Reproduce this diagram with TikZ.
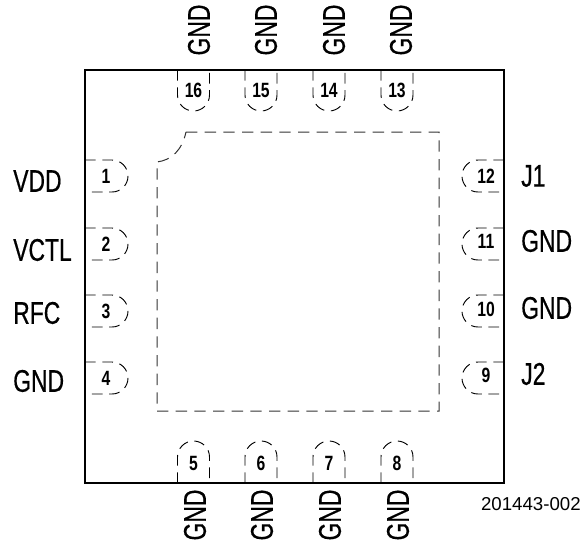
\documentclass[tikz,border=0pt]{standalone}
\usepackage{graphicx}
\usepackage{fontspec}
\setmainfont{Liberation Sans}
\newfontfamily\condfont[FakeStretch=0.73,FakeBold=0.5]{Liberation Sans}
\newcommand{\pintext}[1]{\scalebox{0.76}[1]{\bfseries #1}}
\usetikzlibrary{positioning}
\tikzset{
    pinlabel/.style={font=\condfont\fontsize{23.5}{23.5}\selectfont, inner sep=0pt},
    pinnum/.style={font=\fontsize{15.5}{15.5}\selectfont, inner sep=0pt},
    paddash/.style={line width=0.7pt, dash pattern=on 8pt off 5pt},
    epaddash/.style={line width=0.75pt, black!80, dash pattern=on 8.5pt off 5.5pt}
}
\begin{document}
\begin{tikzpicture}[x=0.75pt,y=-0.75pt]
    \useasboundingbox (0,0) rectangle (583,544);

    % Package outline
    \coordinate (bodyNW) at (85,70);
    \coordinate (bodySE) at (504,483);
    \draw[line width=1.2pt] (bodyNW) rectangle (bodySE);

    % Exposed pad
    \draw[epaddash] (186,132) -- (439,132) -- (439,411) -- (157,411) -- (157,162)
        .. controls (172,160) and (182,150) .. (186,132);

    % Left pads
    \foreach \y/\num/\name/\ly in {176/1/VDD/181, 244/2/VCTL/250, 311/3/RFC/313, 378/4/GND/381} {
        \draw[paddash] (85,\y-16) -- (112,\y-16) arc (-90:90:16) -- (85,\y+16);
        \node[pinnum] (pin\num) at (106,\y) {\pintext{\num}};
        \node[pinlabel, anchor=west] (label\num) at (13,\ly) {\name};
    }

    % Right pads
    \foreach \y/\num/\name/\ly/\ny in {176/12/J1/176/176, 244/11/GND/241/241, 311/10/GND/308/309, 378/9/J2/374/375} {
        \draw[paddash] (504,\y-16) -- (478,\y-16) arc (270:90:16) -- (504,\y+16);
        \node[pinnum] (pin\num) at (486,\ny) {\pintext{\num}};
        \node[pinlabel, anchor=west] (label\num) at (521,\ly) {\name};
    }

    % Top pads
    \foreach \x/\num/\lx in {193.5/16/199, 261/15/266, 329/14/334, 397/13/401} {
        \draw[paddash] (\x-16,70) -- (\x-16,95) arc (180:0:16) -- (\x+16,70);
        \node[pinnum] (pin\num) at (\x,90) {\pintext{\num}};
        \node[pinlabel, rotate=90] (label\num) at (\lx,30) {GND};
    }

    % Bottom pads
    \foreach \x/\num/\lx in {193.5/5/195, 261/6/262, 329/7/330, 397/8/398} {
        \draw[paddash] (\x-16,483) -- (\x-16,457) arc (180:360:16) -- (\x+16,483);
        \node[pinnum] (pin\num) at (\x,463) {\pintext{\num}};
        \node[pinlabel, rotate=90] (label\num) at (\lx,515) {GND};
    }

    \node[font=\fontsize{14}{14}\selectfont, inner sep=0pt, anchor=east] (partno) at (581,504) {201443-002};
\end{tikzpicture}
\end{document}
